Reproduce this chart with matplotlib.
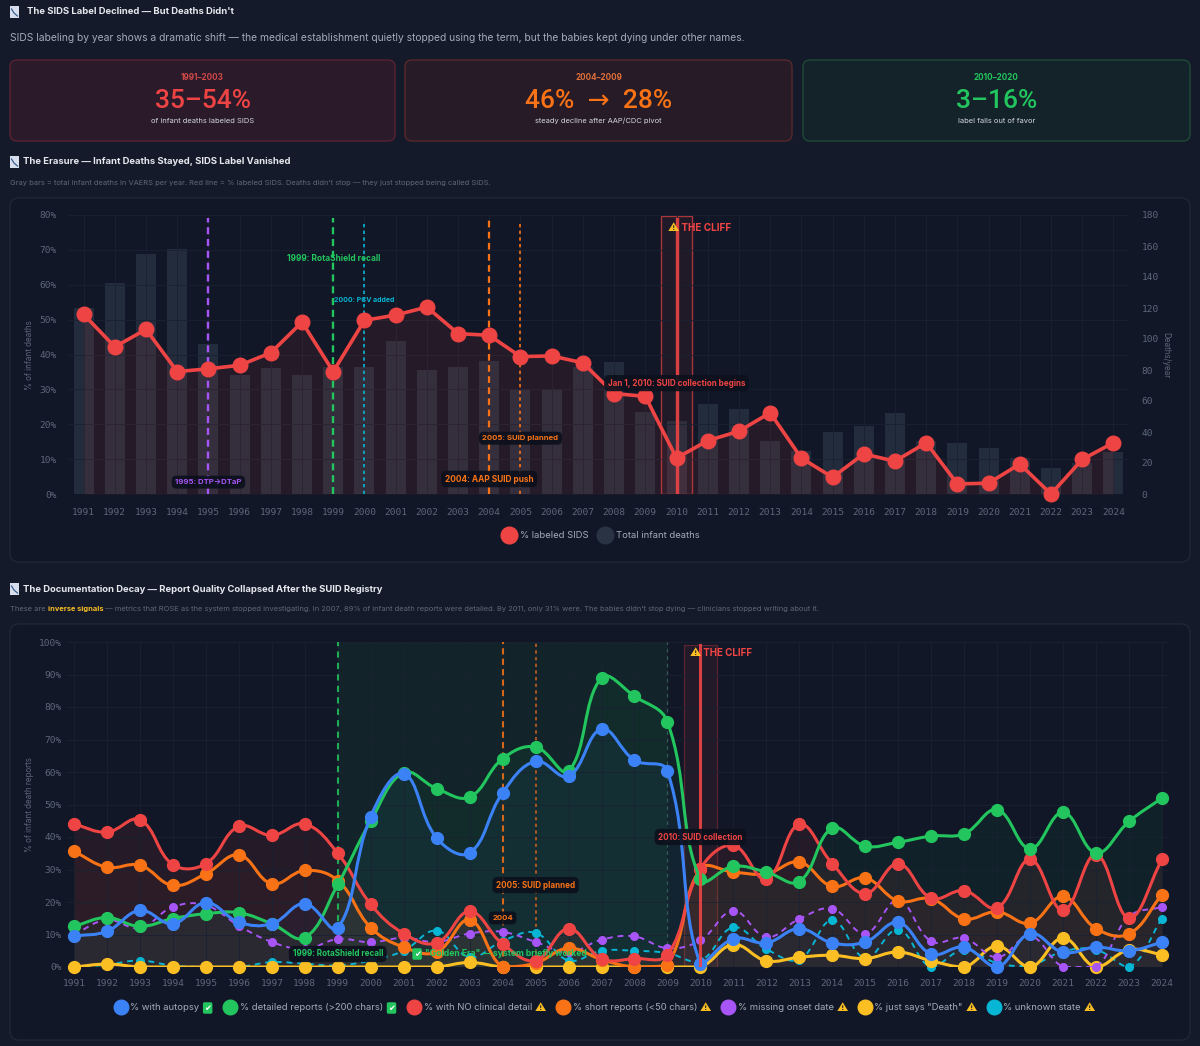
import numpy as np
import matplotlib.pyplot as plt
from matplotlib.patches import FancyBboxPatch, Rectangle, PathPatch
from matplotlib.path import Path
from matplotlib.lines import Line2D

W, H = 1200, 1046
BG = '#141a29'
PANEL = '#111726'
EDGE = '#1f2737'
TICK = '#5d677a'
GRID = '#1a2232'
RED, ORANGE, GREEN = '#ef4444', '#f97316', '#22c55e'
BLUE, PURPLE, YELLOW, CYAN = '#3b82f6', '#a855f7', '#fbbf24', '#06b6d4'
TXT = ['Inter', 'DejaVu Sans']
MONO = ['DejaVu Sans Mono']
plt.rcParams['font.family'] = TXT

years = list(range(1991, 2025))

# chart 1: % labeled SIDS and total infant deaths per year
sids_pct = [51.5, 42.2, 47.2, 35.1, 35.9, 36.9, 40.5, 49.3, 35.1, 49.8,
            51.3, 53.6, 46.0, 45.5, 39.4, 39.6, 37.6, 28.8, 28.0, 10.3,
            15.3, 18.0, 23.3, 10.3, 4.8, 11.5, 9.4, 14.7, 2.9, 3.1,
            8.6, 0.0, 9.9, 14.7]
deaths = [120, 136, 155, 158, 97, 77, 81, 77, 82, 82,
          99, 80, 82, 86, 68, 68, 82, 85, 53, 47,
          58, 55, 34, 28, 40, 44, 52, 34, 33, 30,
          23, 17, 20, 27]

# chart 2: report quality metrics (% of infant death reports)
autopsy = [9.5, 11, 17.4, 13.3, 19.8, 13.8, 13.3, 19.5, 12, 46.3,
           59.5, 39.7, 35.1, 53.6, 63.3, 58.7, 73.2, 63.6, 60.3, 1,
           8.7, 7.4, 11.8, 7.4, 7.7, 13.7, 4, 6.1, 0, 10.3,
           4.5, 6.1, 5, 7.6]
detailed = [12.5, 15.2, 12.5, 14.9, 16.4, 16.7, 13.3, 9, 25.4, 44.9,
            59.8, 54.9, 52.3, 64.1, 67.7, 60.3, 89, 83.3, 75.4, 27,
            31, 29.2, 26.3, 42.7, 37.2, 38.4, 40.3, 41, 48.4, 36.4,
            47.6, 35.1, 44.8, 52]
no_detail = [44, 41.5, 45.3, 31.5, 31.8, 43.3, 40.5, 44, 35, 19.3,
             10.3, 7.4, 17.1, 7.1, 2, 11.8, 2.6, 2.6, 3.8, 30.2,
             37.4, 27, 43.9, 31.8, 22.6, 31.8, 21.2, 23.5, 18.2, 33.1,
             17.4, 34.6, 15.1, 33.1]
short = [35.6, 30.7, 31.3, 25.1, 28.7, 34.5, 25.6, 29.7, 26.6, 12.1,
         6.1, 4.6, 14.5, 0, 1.2, 5.8, 2.3, 0, 0.7, 30.2,
         29.2, 28.7, 32.3, 24.8, 27.4, 20.3, 21, 14.8, 17, 13.5,
         21.7, 11.8, 10.2, 22.3]
missing_onset = [10, 14.5, 12, 18.5, 19, 12.7, 7.7, 5.5, 8.6, 7.6,
                 9, 7.7, 10.3, 10.8, 7.7, 4.5, 8.4, 9.4, 5.8, 8.2,
                 17.3, 9.2, 14.8, 17.9, 10.3, 20.5, 7.9, 8.9, 3, 9.5,
                 0, 0, 15.5, 18.5]
just_death = [0, 0.9, 0, 0, 0, 0, 0, 0, 0, 0,
              0, 0, 1.4, 0, 0, 0, 0, 0, 0, 0,
              6.9, 1.9, 3, 3.6, 2.6, 4.6, 1.9, 0, 6.4, 0,
              8.9, 0, 5.3, 3.8]
unknown_state = [0, 0.7, 2, 0.4, 0, 0, 1.5, 1, 0.5, 2,
                 5, 11.2, 3, 8, 10.5, 2, 5, 5, 4.3, 2,
                 12.2, 5.5, 2.3, 14.4, 2.8, 11.5, 0, 5.3, 1.2, 0.5,
                 4.8, 5.3, 0, 14.9]

card_periods = ['1991–2003', '2004–2009', '2010–2020']
card_values = ['35–54%', '46%  →  28%', '3–16%']
card_notes = ['of infant deaths labeled SIDS', 'steady decline after AAP/CDC pivot',
              'label falls out of favor']

series_labels = ['% with autopsy', '% detailed reports (>200 chars)', '% with NO clinical detail',
                 '% short reports (<50 chars)', '% missing onset date', '% just says "Death"',
                 '% unknown state']


fig = plt.figure(figsize=(W / 100, H / 100), dpi=100, facecolor=BG)
bg = fig.add_axes([0, 0, 1, 1], zorder=0)
bg.set_xlim(0, W)
bg.set_ylim(H, 0)
bg.axis('off')


def px_axes(l, t, r, b):
    return fig.add_axes([l / W, 1 - b / H, (r - l) / W, (b - t) / H])


def box(x, y, w, h, fc, ec, r=7):
    bg.add_patch(FancyBboxPatch((x, y), w, h, boxstyle=f'round,pad=0,rounding_size={r}',
                                fc=fc, ec=ec, lw=1))


def title(x, y, s, tx):
    bg.add_patch(Rectangle((x, y - 6), 9, 12, fc='#d6dfeb', ec='none'))
    bg.plot([x + 1.5, x + 4, x + 7.5], [y - 3, y + 1, y + 4], color='#3d5f95', lw=0.9)
    bg.text(tx, y, s, color='#e6e8ee', fontsize=6.8, fontweight='bold', va='center')


def chain(x, y, parts, size):
    prev = None
    for s, color, weight in parts:
        if prev is None:
            prev = bg.text(x, y, s, color=color, fontsize=size, fontweight=weight, va='center')
        else:
            prev = bg.annotate(s, xy=(1, 0), xycoords=prev, va='bottom', ha='left',
                               color=color, fontsize=size, fontweight=weight)


# ---- header and cards
title(10, 12, "The SIDS Label Declined — But Deaths Didn't", 27)
bg.text(10, 38, 'SIDS labeling by year shows a dramatic shift — the medical establishment quietly '
        'stopped using the term, but the babies kept dying under other names.',
        color='#a3abb9', fontsize=7.4, va='center')

card_x = [10, 405, 803]
card_w = [385, 387, 387]
card_fc = ['#2a1a2a', '#261b27', '#14232a']
card_ec = ['#5a2232', '#57292b', '#1d4a36']
card_col = [RED, ORANGE, GREEN]
card_sub = ['#d04848', '#e0703a', '#22c55e']
for x, w, fc, ec, c, cs, p, v, n in zip(card_x, card_w, card_fc, card_ec, card_col, card_sub,
                                        card_periods, card_values, card_notes):
    box(x, 60, w, 81, fc, ec, 7)
    cx = x + w / 2
    bg.text(cx, 78, p, color=cs, fontsize=5.8, fontweight='bold', ha='center', va='center')
    bg.text(cx, 101, v, color=c, fontsize=19, fontweight='medium', family=['Roboto', 'DejaVu Sans'],
            ha='center', va='center')
    bg.text(cx, 121, n, color='#d4d7de', fontsize=5.4, ha='center', va='center')

# ---- chart 1
title(10, 162, 'The Erasure — Infant Deaths Stayed, SIDS Label Vanished', 23)
bg.text(10, 183, "Gray bars = total infant deaths in VAERS per year. Red line = % labeled SIDS. "
        "Deaths didn't stop — they just stopped being called SIDS.",
        color='#5f6878', fontsize=5.4, va='center')
box(10, 198, 1180, 364, PANEL, EDGE, 9)

ax1 = px_axes(68, 215, 1129, 494)
axb = ax1.twinx()
ax1.set_zorder(3)
axb.set_zorder(2)
ax1.patch.set_visible(False)
axb.patch.set_visible(False)

axb.bar(years, deaths, width=0.64, color='#334155', alpha=0.5, zorder=1)
axb.set_ylim(0, 180)
axb.set_yticks(range(0, 181, 20))

ax1.set_xlim(1990.5, 2024.5)
ax1.set_ylim(0, 80)
ax1.set_yticks(range(0, 81, 10))
ax1.set_yticklabels([f'{v}%' for v in range(0, 81, 10)])
ax1.set_xticks(years)
ax1.grid(True, color=GRID, lw=0.6)
ax1.fill_between(years, sids_pct, 0, color=RED, alpha=0.09, lw=0, zorder=2)

ax1.axvspan(2009.5, 2010.5, ymax=0.995, fc=RED, alpha=0.07, zorder=1)
ax1.axvspan(2009.5, 2010.5, ymax=0.995, fc='none', ec='#a8353b', lw=1.0, zorder=1)
ax1.axvline(2010, ymax=0.985, color=RED, lw=2.4, alpha=0.9, zorder=3)
ax1.axvline(1995, ymax=0.99, color=PURPLE, lw=1.7, dashes=(3, 2), zorder=3)
ax1.axvline(1999, ymax=0.99, color=GREEN, lw=1.7, dashes=(3, 2), zorder=3)
ax1.axvline(2000, ymax=0.98, color=CYAN, lw=1.2, dashes=(2, 2), zorder=3)
ax1.axvline(2004, ymax=0.99, color=ORANGE, lw=1.6, dashes=(3, 2), zorder=3)
ax1.axvline(2005, ymax=0.98, color=ORANGE, lw=1.2, dashes=(2, 2), zorder=3)

ax1.plot(years, sids_pct, color=RED, lw=2.6, marker='o', ms=10.5, zorder=5, clip_on=False)

lbl_box = dict(boxstyle='round,pad=0.45,rounding_size=0.6', fc='#0c111d', ec='none', alpha=0.92)
ax1.text(1995, 3.4, '1995: DTP→DTaP', color=PURPLE, fontsize=5.6, fontweight='bold',
         ha='center', va='center', bbox=lbl_box, zorder=8)
ax1.text(1999, 67.6, '1999: RotaShield recall', color=GREEN, fontsize=6.0, fontweight='bold',
         ha='center', va='center', zorder=8)
ax1.text(2000, 55.6, '2000: PCV added', color=CYAN, fontsize=5.0, fontweight='bold',
         ha='center', va='center', zorder=8)
ax1.text(2005, 16.0, '2005: SUID planned', color=ORANGE, fontsize=5.6, fontweight='bold',
         ha='center', va='center', bbox=lbl_box, zorder=8)
ax1.text(2004, 4.3, '2004: AAP SUID push', color=ORANGE, fontsize=6.0, fontweight='bold',
         ha='center', va='center', bbox=lbl_box, zorder=8)
ax1.text(2010, 31.8, 'Jan 1, 2010: SUID collection begins', color=RED, fontsize=5.8,
         fontweight='bold', ha='center', va='center', bbox=lbl_box, zorder=8)
w1 = ax1.text(2009.72, 76.2, '⚠', color=YELLOW, fontsize=8, ha='left', va='center', zorder=8)
ax1.annotate(' THE CLIFF', xy=(1, 0.5), xycoords=w1, va='center', ha='left', color=RED,
             fontsize=7.2, fontweight='bold', zorder=8)

for a in (ax1, axb):
    for s in a.spines.values():
        s.set_visible(False)
    a.tick_params(length=0, labelsize=6.8, colors=TICK, labelfontfamily='DejaVu Sans Mono')
ax1.tick_params(axis='x', pad=10)
ax1.tick_params(axis='y', pad=8)
axb.tick_params(axis='y', pad=9)
bg.text(30, 355, '% of infant deaths', rotation=90, color=TICK, fontsize=5.8, ha='center', va='center')
bg.text(1166, 355, 'Deaths/year', rotation=270, color=TICK, fontsize=5.8, ha='center', va='center')

leg1 = fig.legend(handles=[Line2D([], [], ls='none', marker='o', ms=12, mfc=RED, mec=RED),
                           Line2D([], [], ls='none', marker='o', ms=12, mfc='#2a3344', mec='#2a3344')],
                  labels=['% labeled SIDS', 'Total infant deaths'], loc='center',
                  bbox_to_anchor=(600 / W, 1 - 536 / H), ncol=2, frameon=False, fontsize=6.8,
                  labelcolor='#a3abb9', handlelength=1.8, handletextpad=0.2, columnspacing=0.9)

# ---- chart 2
title(10, 589, 'The Documentation Decay — Report Quality Collapsed After the SUID Registry', 23)
chain(10, 609, [('These are ', '#5f6878', 'normal'), ('inverse signals', YELLOW, 'bold'),
                (' — metrics that ROSE as the system stopped investigating. In 2007, 89% of infant '
                 'death reports were detailed. By 2011, only 31% were. The babies didn\'t stop dying '
                 '— clinicians stopped writing about it.', '#5f6878', 'normal')], 5.4)
box(10, 624, 1180, 416, PANEL, EDGE, 9)

ax2 = px_axes(67.4, 642, 1168.6, 967)
ax2.set_zorder(3)
ax2.patch.set_visible(False)
ax2.set_xlim(1990.8, 2024.2)
ax2.set_ylim(0, 100)
ax2.set_xticks(years)
ax2.set_yticks(range(0, 101, 10))
ax2.set_yticklabels([f'{v}%' for v in range(0, 101, 10)])
ax2.grid(True, color=GRID, lw=0.6)
for s in ax2.spines.values():
    s.set_visible(False)
ax2.tick_params(length=0, labelsize=6.8, colors=TICK, labelfontfamily='DejaVu Sans Mono')
ax2.tick_params(axis='x', pad=9)
ax2.tick_params(axis='y', pad=4)
bg.text(30, 805, '% of infant death reports', rotation=90, color=TICK, fontsize=5.8,
        ha='center', va='center')

# golden era and cliff bands
ax2.axvspan(1999, 2009, fc=GREEN, alpha=0.07, lw=0, zorder=0)
ax2.axvline(1999, color=GREEN, lw=1.5, dashes=(3, 2.5), alpha=0.85, zorder=2)
ax2.axvline(2009, color='#3b6b5a', lw=0.9, dashes=(3, 3), alpha=0.8, zorder=2)
ax2.axvspan(2009.5, 2010.5, ymax=0.99, fc=RED, alpha=0.08, zorder=1)
ax2.axvspan(2009.5, 2010.5, ymax=0.99, fc='none', ec='#5a2530', lw=0.9, zorder=1)
ax2.axvline(2010, ymax=0.99, color=RED, lw=2.2, alpha=0.9, zorder=7)
ax2.axvline(2004, color=ORANGE, lw=1.5, dashes=(3, 2), alpha=0.85, zorder=2)
ax2.axvline(2005, color=ORANGE, lw=1.2, dashes=(2, 2), alpha=0.75, zorder=2)

SX, SY = 32.97, 3.25


def curve(xs, ys, t=0.4):
    p = np.column_stack([np.asarray(xs, float) * SX, np.asarray(ys, float) * SY])
    n = len(p)
    cin, cout = [], []
    for i in range(n):
        a, b, c = p[max(i - 1, 0)], p[i], p[min(i + 1, n - 1)]
        d01, d12 = np.hypot(*(b - a)), np.hypot(*(c - b))
        tot = d01 + d12
        s01, s12 = (d01 / tot, d12 / tot) if tot > 0 else (0, 0)
        cin.append(b - t * s01 * (c - a))
        cout.append(b + t * s12 * (c - a))
    verts, codes = [p[0]], [Path.MOVETO]
    for i in range(1, n):
        verts += [cout[i - 1], cin[i], p[i]]
        codes += [Path.CURVE4] * 3
    v = np.array(verts) / [SX, SY]
    v[:, 1] = np.clip(v[:, 1], 0, 100)
    return v, codes


series = [autopsy, detailed, no_detail, short, missing_onset, just_death, unknown_state]
colors = [BLUE, GREEN, RED, ORANGE, PURPLE, YELLOW, CYAN]
dashed = [False, False, False, False, True, False, True]
fills = [0.04, 0.06, 0.09, 0.03, 0, 0, 0]

for i in reversed(range(len(series))):
    vals, c = series[i], colors[i]
    v, codes = curve(years, vals)
    if fills[i]:
        fv = np.vstack([v, [[years[-1], 0], [years[0], 0], [years[0], 0]]])
        fc = codes + [Path.LINETO, Path.LINETO, Path.CLOSEPOLY]
        ax2.add_patch(PathPatch(Path(fv, fc), fc=c, ec='none', alpha=fills[i], zorder=1))
    z = 4 + (len(series) - i) * 0.1
    if dashed[i]:
        ax2.add_patch(PathPatch(Path(v, codes), fc='none', ec=c, lw=1.4, ls=(0, (3, 2.5)),
                                zorder=z, capstyle='butt'))
        ax2.plot(years, vals, ls='none', marker='o', ms=5.5, color=c, zorder=z, clip_on=False)
    else:
        ax2.add_patch(PathPatch(Path(v, codes), fc='none', ec=c, lw=2.2, zorder=z))
        ax2.plot(years, vals, ls='none', marker='o', ms=8.5, color=c, zorder=z, clip_on=False)

ax2.text(2010, 40, '2010: SUID collection', color=RED, fontsize=5.8, fontweight='bold',
         ha='center', va='center', bbox=lbl_box, zorder=9)
ax2.text(2005, 25.2, '2005: SUID planned', color=ORANGE, fontsize=5.8, fontweight='bold',
         ha='center', va='center', bbox=lbl_box, zorder=9)
ax2.text(2004, 15.1, '2004', color=ORANGE, fontsize=5.6, fontweight='bold',
         ha='center', va='center', bbox=lbl_box, zorder=9)
ax2.text(1999, 4.0, '1999: RotaShield recall', color=GREEN, fontsize=5.8, fontweight='bold',
         ha='center', va='center', bbox=lbl_box, zorder=9)
ck = ax2.text(2001.3, 4.0, '✔', color='white', fontsize=6, fontweight='bold', ha='left',
              va='center', zorder=9,
              bbox=dict(boxstyle='round,pad=0.15,rounding_size=0.2', fc=GREEN, ec='none'))
ax2.annotate('  "Golden Era" — system briefly worked', xy=(1, 0.5), xycoords=ck, va='center',
             ha='left', color=GREEN, fontsize=6.2, fontweight='bold', zorder=9)
w2 = ax2.text(2009.68, 96.6, '⚠', color=YELLOW, fontsize=8, ha='left', va='center', zorder=9)
ax2.annotate(' THE CLIFF', xy=(1, 0.5), xycoords=w2, va='center', ha='left', color=RED,
             fontsize=7.0, fontweight='bold', zorder=9)

leg2 = fig.legend(handles=[Line2D([], [], ls='none', marker='o', ms=10.5, mfc=c, mec=c) for c in colors],
                  labels=series_labels, loc='center', bbox_to_anchor=(597 / W, 1 - 1008 / H),
                  ncol=7, frameon=False, fontsize=6.8, labelcolor='#a3abb9', handlelength=1.6,
                  handletextpad=0.2, columnspacing=2.5)

fig.canvas.draw()
r = fig.canvas.get_renderer()
inv = bg.transData.inverted()
icons = ['ok', 'ok', 'warn', 'warn', 'warn', 'warn', 'warn']
for t, ic in zip(leg2.get_texts(), icons):
    bb = t.get_window_extent(r)
    x, y = inv.transform((bb.x1, (bb.y0 + bb.y1) / 2))
    if ic == 'ok':
        bg.text(x + 5, y, '✔', color='white', fontsize=6, fontweight='bold', ha='left', va='center',
                bbox=dict(boxstyle='round,pad=0.15,rounding_size=0.2', fc=GREEN, ec='none'))
    else:
        bg.text(x + 3, y, '⚠', color=YELLOW, fontsize=8, ha='left', va='center')

fig.savefig('out.png', dpi=100, facecolor=BG)
